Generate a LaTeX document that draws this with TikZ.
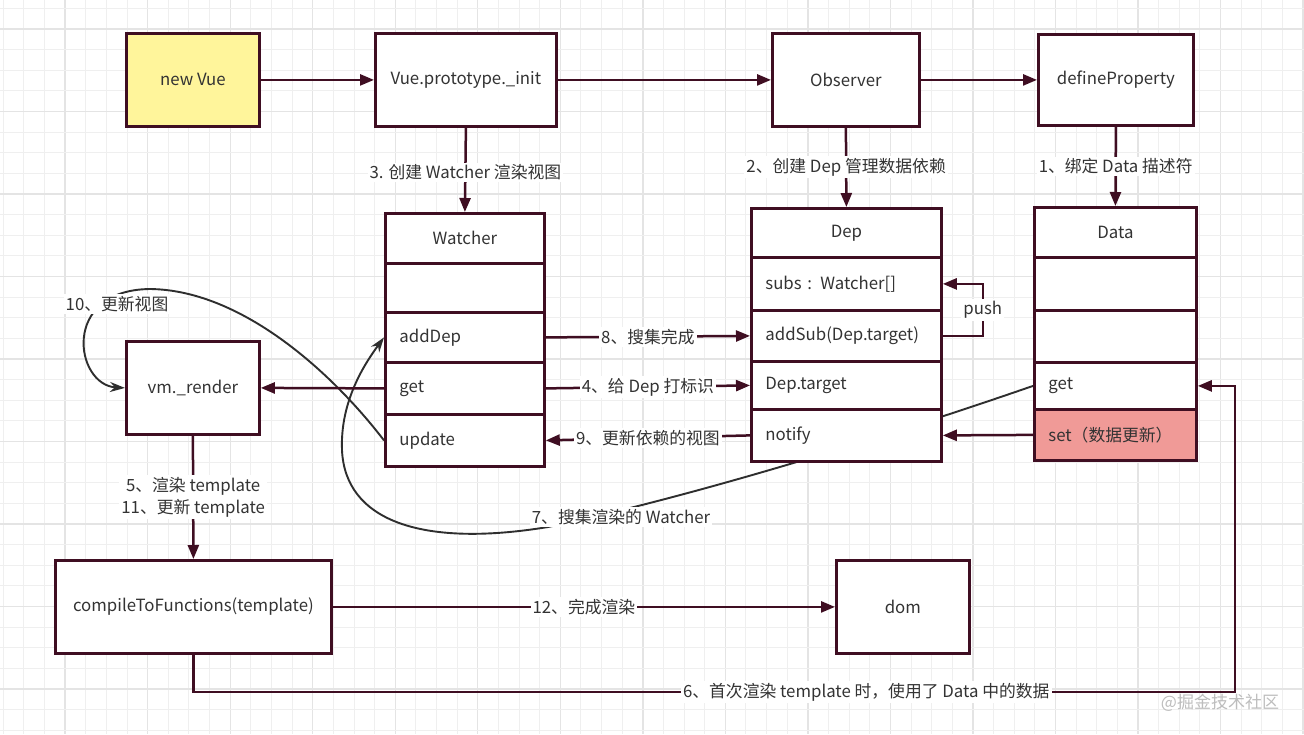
\documentclass[tikz,border=0pt]{standalone}
\usepackage{fontspec}
\newfontfamily\cjk{Noto Sans CJK SC}
\usetikzlibrary{arrows.meta}
\definecolor{bd}{HTML}{3F0E22}
\definecolor{txt}{HTML}{333333}
\definecolor{gmin}{HTML}{EFEFEF}
\definecolor{gmaj}{HTML}{E4E4E4}
\definecolor{yel}{HTML}{FFF59B}
\definecolor{setred}{HTML}{F09A97}
\definecolor{crv}{HTML}{2E2E2E}
\definecolor{wm}{HTML}{BDBDBD}
\pgfdeclarelayer{gridl}
\pgfdeclarelayer{bgl}
\pgfsetlayers{gridl,bgl,main}
\begin{document}
\begin{tikzpicture}[x=1pt,y=-1pt,
  font=\cjk\fontsize{16.8}{19}\selectfont, text=txt,
  box/.style={draw=bd, line width=2.8pt, fill=white, anchor=north west, inner sep=0pt},
  cellL/.style={box, inner xsep=14pt, align=left},
  cellC/.style={box, align=center},
  conn/.style={draw=bd, line width=2.5pt, -{Triangle[length=14pt,width=11pt]}},
  curvy/.style={draw=crv, line width=1.9pt, -{Stealth[length=15pt,width=10pt]}},
  lbl/.style={fill=white, inner sep=2pt, text=txt}]
\useasboundingbox (0,0) rectangle (1304,734);

% ---------- background grid ----------
\begin{pgfonlayer}{gridl}
\fill[white] (0,0) rectangle (1304,734);
\foreach \k in {0,...,63}{
  \pgfmathsetmacro\xx{3.3+\k*20.63}
  \pgfmathtruncatemacro\m{mod(\k,4)}
  \ifnum\m=3 \draw[gmaj,line width=1.4pt] (\xx,0) -- (\xx,734);
  \else \draw[gmin,line width=1pt] (\xx,0) -- (\xx,734); \fi
}
\foreach \k in {0,...,35}{
  \pgfmathsetmacro\yy{8.3+\k*20.63}
  \pgfmathtruncatemacro\m{mod(\k,4)}
  \ifnum\m=1 \draw[gmaj,line width=1.4pt] (0,\yy) -- (1304,\yy);
  \else \draw[gmin,line width=1pt] (0,\yy) -- (1304,\yy); \fi
}
\end{pgfonlayer}

% ---------- top boxes ----------
\node[box, fill=yel, minimum width=133pt, minimum height=93pt] (nv) at (125,32) {new Vue};
\node[box, minimum width=181pt, minimum height=93pt] (init) at (374,32) {Vue.prototype.\_init};
\node[box, minimum width=147pt, minimum height=93pt] (obs) at (771,32) {Observer};
\node[box, minimum width=155pt, minimum height=91pt] (dp) at (1037,33) {defineProperty};

% ---------- Watcher ----------
\node[cellC, minimum width=159pt, minimum height=50pt] (wh) at (384,212) {Watcher};
\node[cellL, text width=131pt, minimum height=49pt] (wemp) at (384,262) {};
\node[cellL, text width=131pt, minimum height=50pt] (wadd) at (384,311) {addDep};
\node[cellL, text width=131pt, minimum height=52pt] (wget) at (384,361) {get};
\node[cellL, text width=131pt, minimum height=52pt] (wupd) at (384,413) {update};

% ---------- Dep ----------
\node[cellC, minimum width=190pt, minimum height=49pt] (dh) at (750,207) {Dep};
\node[cellL, text width=162pt, minimum height=53pt] (dsubs) at (750,256) {subs : Watcher[]};
\node[cellL, text width=162pt, minimum height=51pt] (dadd) at (750,309) {addSub(Dep.target)};
\node[cellL, text width=162pt, minimum height=48pt] (dtgt) at (750,360) {Dep.target};
\node[cellL, text width=162pt, minimum height=52pt] (dnot) at (750,408) {notify};

% ---------- Data ----------
\node[cellC, minimum width=162pt, minimum height=50pt] (ah) at (1033,206) {Data};
\node[cellL, text width=134pt, minimum height=53pt] (ae1) at (1033,256) {};
\node[cellL, text width=134pt, minimum height=52pt] (ae2) at (1033,309) {};
\node[cellL, text width=134pt, minimum height=47pt] (aget) at (1033,361) {get};
\node[cellL, fill=setred, text width=134pt, minimum height=51pt] (aset) at (1033,408) {set（数据更新）};

% ---------- lower boxes ----------
\node[box, minimum width=133pt, minimum height=93pt] (vmr) at (125,340) {vm.\_render};
\node[box, minimum width=276pt, minimum height=93pt] (cmp) at (54,559) {compileToFunctions(template)};
\node[box, minimum width=133pt, minimum height=93pt] (dom) at (835,559) {dom};

% ---------- curved connectors (behind boxes) ----------
\begin{pgfonlayer}{bgl}
\draw[curvy] (aget.west) .. controls (900,432) and (700,495) .. (548,527)
  .. controls (420,548) and (345,520) .. (342,450)
  .. controls (340,400) and (366,362) .. (wadd.west);
\draw[curvy] (wupd.west) .. controls (330,370) and (240,290) .. (150,289)
  .. controls (60,290) and (75,385) .. (vmr.west);
\end{pgfonlayer}
\node[lbl] (l7) at (621,517) {7、搜集渲染的 Watcher};
\node[lbl] (l10) at (117,304) {10、更新视图};

% ---------- straight connectors ----------
\draw[conn] (nv.east) -- (init.west);
\draw[conn] (init.east) -- (obs.west);
\draw[conn] (obs.east) -- (dp.west);
\draw[conn] (init.south) -- node[lbl, pos=0.53] {3. 创建 Watcher 渲染视图} (wh.north);
\draw[conn] (obs.south) -- node[lbl] {2、创建 Dep 管理数据依赖} (dh.north);
\draw[conn] (dp.south) -- node[lbl] {1、绑定 Data 描述符} (ah.north);

\draw[conn] (wadd.east) -- node[lbl] {8、搜集完成} (dadd.west);
\draw[conn] (wget.east) -- node[lbl] {4、给 Dep 打标识} (dtgt.west);
\draw[conn] (dnot.west) -- node[lbl] {9、更新依赖的视图} (wupd.east);
\draw[conn] (wget.west) -- (vmr.east);
\draw[conn] (aset.west) -- (dnot.east);
\draw[conn] (dadd.east) -- ++(40,0) |- node[lbl, pos=0.25] {push} (dsubs.east);

\draw[conn] (vmr.south) -- node[lbl, align=center, font=\cjk\fontsize{16.8}{22}\selectfont] {5、渲染 template\\11、更新 template} (cmp.north);
\draw[conn] (cmp.east) -- node[lbl] {12、完成渲染} (dom.west);
\coordinate (br) at (1235,692);
\draw[conn] (cmp.south) |- node[lbl, pos=0.823] {6、首次渲染 template 时，使用了 Data 中的数据} (br) |- (aget.east);

\node[text=wm, font=\cjk\fontsize{17}{20}\selectfont] (wmk) at (1220,703) {@掘金技术社区};
\end{tikzpicture}
\end{document}
